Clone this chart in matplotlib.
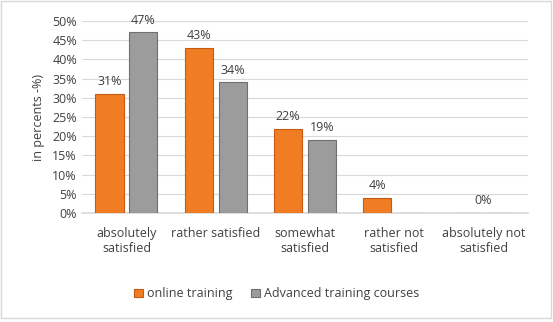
import matplotlib.pyplot as plt
import numpy as np

categories = ['absolutely\nsatisfied', 'rather satisfied', 'somewhat\nsatisfied',
              'rather not\nsatisfied', 'absolutely not\nsatisfied']
online = [31, 43, 22, 4, 0]
advanced = [47, 34, 19, 0, None]
series_names = ['online training', 'Advanced training courses']

plt.rcParams['font.family'] = ['Open Sans', 'DejaVu Sans']

fig = plt.figure(figsize=(5.53, 3.22), dpi=100)
# outer chart border
fig.patches.append(plt.Rectangle((0.002, 0.012), 0.995, 0.985, transform=fig.transFigure,
                                 fill=False, edgecolor='#d9d9d9', linewidth=1))
ax = fig.add_axes([0.148, 0.338, 0.807, 0.597])

x = np.arange(len(categories))
w = 0.315
off = 0.19
adv_vals = [v if v is not None else 0 for v in advanced]
b1 = ax.bar(x - off, online, w, color='#f07d24', edgecolor='#c55a11', linewidth=0.8,
            label=series_names[0], zorder=3)
b2 = ax.bar(x + off, adv_vals, w, color='#9c9c9c', edgecolor='#6f6f6f', linewidth=0.8,
            label=series_names[1], zorder=3)

lbl = dict(ha='center', va='bottom', fontsize=9, color='#404040')
for xi, v in zip(x, online):
    if v == 0:
        continue
    ax.text(xi - off, v + 1.5, f'{v}%', **lbl)
for xi, v in zip(x, advanced):
    if v is None or v == 0:
        continue
    ax.text(xi + off, v + 1.5, f'{v}%', **lbl)
# the single 0% label sits in the middle of the last category
ax.text(x[-1], 1.5, '0%', **lbl)

ax.set_xlim(-0.5, len(categories) - 0.5)
ax.set_ylim(0, 50)
ax.set_yticks(np.arange(0, 51, 5))
ax.set_yticklabels([f'{t}%' for t in range(0, 51, 5)])
ax.set_xticks(x)
ax.set_xticklabels(categories)
ax.tick_params(axis='both', length=0, labelsize=9, colors='#404040')
ax.tick_params(axis='x', pad=10)
ax.grid(axis='y', color='#d9d9d9', linewidth=0.8, zorder=0)
for s in ['top', 'right', 'left']:
    ax.spines[s].set_visible(False)
ax.spines['bottom'].set_color('#d9d9d9')
ax.spines['bottom'].set_linewidth(1.2)
ax.set_ylabel('in percents -%)', fontsize=9, color='#404040', labelpad=5)

fig.legend(handles=[b1, b2], loc='center', bbox_to_anchor=(0.5, 0.087), ncol=2,
           frameon=False, fontsize=9, handlelength=0.7, handleheight=0.7,
           handletextpad=0.3, columnspacing=1.5, labelcolor='#404040')

fig.savefig('out.png', dpi=100)
